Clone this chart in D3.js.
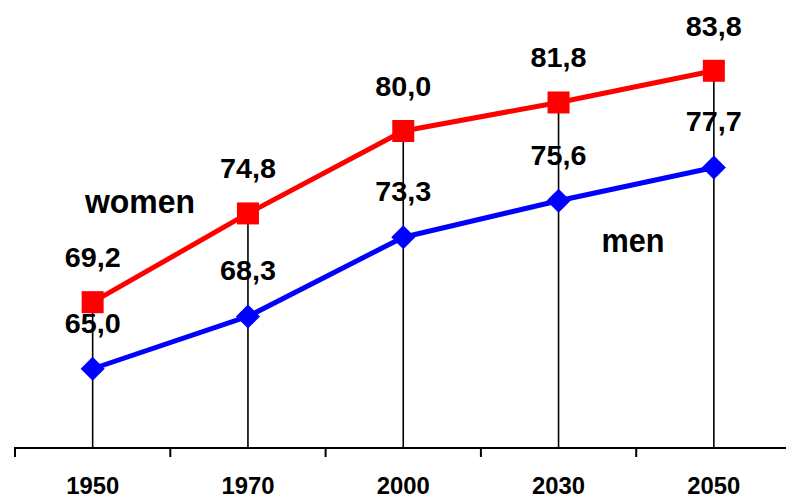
<!DOCTYPE html>
<html>
<head>
<meta charset="utf-8">
<script src="https://cdn.jsdelivr.net/npm/d3@7"></script>
<style>
  html, body { margin: 0; padding: 0; background: #fff; }
  svg text { font-family: "Liberation Sans", Arial, sans-serif; font-weight: bold; fill: #000; }
</style>
</head>
<body>
<div class="chart"></div>
<script>
var years = ["1950", "1970", "2000", "2030", "2050"];
var women = [69.2, 74.8, 80.0, 81.8, 83.8];
var men = [65.0, 68.3, 73.3, 75.6, 77.7];

var width = 786, height = 499;
var axisY = 448;

var svg = d3.select('.chart')
    .append('svg')
    .attr('width', width)
    .attr('height', height);

var x = d3.scaleBand()
    .domain(years)
    .range([15, 15 + 5 * 155.3]);

var y = d3.scaleLinear()
    .domain([60, 90])
    .range([axisY, axisY - 30 * 15.85]);

var cx = function (d, i) { return x(years[i]) + x.bandwidth() / 2; };
var fmt = function (v) { return v.toFixed(1).replace('.', ','); };

// drop lines from the top point down to the axis
svg.append('g')
    .selectAll('line')
    .data(years)
    .enter()
    .append('line')
    .attr('x1', function (d, i) { return cx(d, i); })
    .attr('x2', function (d, i) { return cx(d, i); })
    .attr('y1', function (d, i) { return y(Math.max(women[i], men[i])); })
    .attr('y2', axisY)
    .attr('stroke', '#000')
    .attr('stroke-width', 1.6);

// x axis: baseline plus separator ticks between categories
var ax = svg.append('g').attr('transform', 'translate(0,' + axisY + ')');
ax.append('line')
    .attr('x1', 14).attr('x2', width)
    .attr('stroke', '#000').attr('stroke-width', 2);
ax.selectAll('line.sep')
    .data(years)
    .enter()
    .append('line')
    .attr('class', 'sep')
    .attr('x1', function (d) { return x(d); })
    .attr('x2', function (d) { return x(d); })
    .attr('y1', 0).attr('y2', 9)
    .attr('stroke', '#000').attr('stroke-width', 2);

svg.append('g')
    .selectAll('text')
    .data(years)
    .enter()
    .append('text')
    .attr('x', function (d, i) { return cx(d, i); })
    .attr('y', 494)
    .attr('text-anchor', 'middle')
    .attr('font-size', 24)
    .attr('textLength', 53)
    .attr('lengthAdjust', 'spacingAndGlyphs')
    .text(function (d) { return d; });

var line = d3.line()
    .x(function (d, i) { return cx(d, i); })
    .y(function (d) { return y(d); });

function series(values, color, side, rot, dy) {
    var g = svg.append('g');
    g.append('path')
        .datum(values)
        .attr('d', line)
        .attr('fill', 'none')
        .attr('stroke', color)
        .attr('stroke-width', 5)
        .attr('stroke-linejoin', 'round');
    g.selectAll('path.mark')
        .data(values)
        .enter()
        .append('path')
        .attr('class', 'mark')
        .attr('d', d3.symbol().type(d3.symbolSquare).size(side * side))
        .attr('transform', function (d, i) {
            return 'translate(' + cx(d, i) + ',' + y(d) + ') rotate(' + rot + ')';
        })
        .attr('fill', color);
    g.selectAll('text')
        .data(values)
        .enter()
        .append('text')
        .attr('x', function (d, i) { return cx(d, i); })
        .attr('y', function (d) { return y(d) + dy; })
        .attr('text-anchor', 'middle')
        .attr('font-size', 27)
        .attr('textLength', 56)
        .attr('lengthAdjust', 'spacingAndGlyphs')
        .text(fmt);
}

series(men, '#0000ff', 17, 45, -36);
series(women, '#ff0000', 22, 0, -35);

svg.append('text')
    .attr('x', 140).attr('y', 213)
    .attr('text-anchor', 'middle')
    .attr('font-size', 34)
    .attr('textLength', 110)
    .attr('lengthAdjust', 'spacingAndGlyphs')
    .text('women');

svg.append('text')
    .attr('x', 633).attr('y', 252)
    .attr('text-anchor', 'middle')
    .attr('font-size', 34)
    .attr('textLength', 63)
    .attr('lengthAdjust', 'spacingAndGlyphs')
    .text('men');
</script>
</body>
</html>
